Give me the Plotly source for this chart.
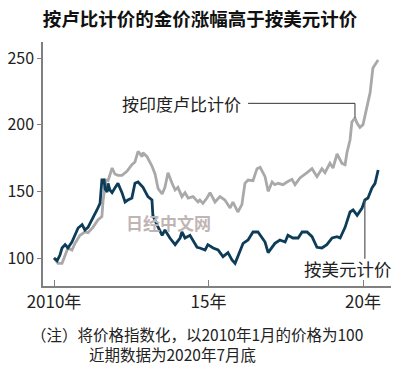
import plotly.graph_objects as go

# ---- data (index, Jan 2010 = 100) ----
usd_x = [2010.00, 2010.10, 2010.19, 2010.26, 2010.36, 2010.45, 2010.58, 2010.68, 2010.78, 2010.91,
         2011.00, 2011.10, 2011.23, 2011.39, 2011.49, 2011.52, 2011.55, 2011.62, 2011.65, 2011.72,
         2011.75, 2011.81, 2011.88, 2011.97, 2012.07, 2012.20, 2012.30, 2012.39, 2012.52, 2012.62,
         2012.72, 2012.88, 2013.04, 2013.17, 2013.20, 2013.33, 2013.50, 2013.59, 2013.75, 2013.92,
         2014.08, 2014.14, 2014.24, 2014.40, 2014.50, 2014.63, 2014.72, 2014.89, 2014.98, 2015.15,
         2015.31, 2015.47, 2015.63, 2015.76, 2015.86, 2015.95, 2016.12, 2016.28, 2016.44, 2016.60,
         2016.73, 2016.83, 2016.93, 2017.06, 2017.15, 2017.31, 2017.48, 2017.57, 2017.73, 2017.90,
         2018.03, 2018.19, 2018.35, 2018.51, 2018.67, 2018.83, 2019.00, 2019.16, 2019.26, 2019.42,
         2019.58, 2019.68, 2019.81, 2019.97, 2020.06, 2020.16, 2020.29, 2020.39, 2020.49]
usd_y = [100, 98, 102, 107.5, 110, 107.5, 112, 117, 122.5, 125,
         121, 123, 128.5, 136, 141, 150, 158.5, 158.5, 152, 149.5,
         156, 151, 149, 152.5, 156, 149, 142, 143.5, 145, 156,
         157, 153, 146, 143.5, 132, 125, 117, 121, 115, 110,
         115, 119.5, 115, 117, 113.5, 108, 107.5, 106, 110, 107.5,
         106, 101, 104, 98.5, 96, 101, 111, 113.5, 119.5, 119.5,
         115, 112, 104, 108, 111, 113.5, 112, 117, 115, 115,
         119.5, 119.5, 116, 108, 107.5, 110, 115, 116, 115, 123,
         134.5, 136, 132, 137.5, 143.5, 145, 152.5, 156, 166]

inr_x = [2010.00, 2010.13, 2010.26, 2010.36, 2010.45, 2010.58, 2010.68, 2010.84, 2011.00, 2011.10,
         2011.26, 2011.42, 2011.55, 2011.59, 2011.68, 2011.75, 2011.88, 2011.97, 2012.07, 2012.20,
         2012.36, 2012.52, 2012.62, 2012.72, 2012.85, 2012.88, 2013.01, 2013.17, 2013.27, 2013.37,
         2013.50, 2013.59, 2013.69, 2013.82, 2013.92, 2014.01, 2014.14, 2014.24, 2014.34, 2014.50,
         2014.66, 2014.72, 2014.82, 2014.95, 2015.05, 2015.21, 2015.37, 2015.53, 2015.70, 2015.79,
         2015.95, 2016.08, 2016.18, 2016.28, 2016.44, 2016.57, 2016.67, 2016.83, 2016.93, 2017.06,
         2017.15, 2017.25, 2017.41, 2017.54, 2017.70, 2017.80, 2017.96, 2018.19, 2018.35, 2018.51,
         2018.67, 2018.77, 2018.93, 2019.03, 2019.16, 2019.32, 2019.42, 2019.48, 2019.58, 2019.64,
         2019.74, 2019.81, 2019.90, 2020.00, 2020.13, 2020.23, 2020.32, 2020.39, 2020.49]
inr_y = [100, 96, 96, 102, 107.5, 106, 111, 117, 119.5, 119,
         123, 128.5, 131, 143.5, 158.5, 158, 167.5, 163, 162, 162,
         165, 170, 172, 180, 176, 179, 176, 169, 163, 152,
         148, 153, 164, 156, 151, 153, 146, 149, 145, 146,
         142, 143.5, 141, 145, 149, 142, 146, 143.5, 137.5, 142,
         134.5, 140, 156, 158.5, 158, 167, 168, 161, 150, 157,
         155, 156, 155, 157, 159, 155, 160, 164, 167, 161,
         167, 164, 171, 167.5, 178, 171, 170, 179, 188.5, 202,
         205, 201, 198, 200, 212.5, 224, 242.5, 245, 248.5]

tick_vals = [2010, 2015, 2020]
tick_text = ["2010年", "15年", "20年"]
y_ticks = [100, 150, 200, 250]

title_text = "按卢比计价的金价涨幅高于按美元计价"
inr_label = "按印度卢比计价"
usd_label = "按美元计价"
note1 = "（注）将价格指数化，以2010年1月的价格为100"
note2 = "近期数据为2020年7月底"
watermark = "日经中文网"

NAVY = "#0c3c58"
GRAY = "#a9a9a9"
AXIS = "#808080"
CJK = "Noto Sans CJK SC"

fig = go.Figure()
fig.add_trace(go.Scatter(x=inr_x, y=inr_y, mode="lines",
                         line=dict(color=GRAY, width=2.8), hoverinfo="skip"))
fig.add_trace(go.Scatter(x=usd_x, y=usd_y, mode="lines",
                         line=dict(color=NAVY, width=2.8), hoverinfo="skip"))

# leader lines anchored on data points
ia = inr_x.index(2019.74)
inr_ax, inr_ay = inr_x[ia], inr_y[ia]
fig.add_shape(type="line", xref="x", yref="y", x0=2016.28, y0=216, x1=inr_ax, y1=216,
              line=dict(color="#333333", width=1))
fig.add_shape(type="line", xref="x", yref="y", x0=inr_ax, y0=216, x1=inr_ax, y1=inr_ay,
              line=dict(color="#333333", width=1))
ua = usd_x.index(2020.06)
usd_ax, usd_ay = usd_x[ua], usd_y[ua]
fig.add_shape(type="line", xref="x", yref="y", x0=usd_ax, y0=usd_ay, x1=usd_ax, y1=99.5,
              line=dict(color="#555555", width=1.2))

fig.add_annotation(x=2016.28, y=216, xref="x", yref="y", text=inr_label, showarrow=False,
                   xanchor="right", yanchor="middle", xshift=-5,
                   font=dict(family=CJK, size=17, color="#222222"))
fig.add_annotation(x=2019.51, y=92.5, xref="x", yref="y", text=usd_label, showarrow=False,
                   xanchor="center", yanchor="middle",
                   font=dict(family=CJK, size=17.5, color="#222222"))
fig.add_annotation(x=0.362, y=0.262, xref="paper", yref="paper", text="<b>" + watermark + "</b>",
                   showarrow=False, xanchor="center", yanchor="middle",
                   font=dict(family=CJK, size=17, color="#bfb5b5"))

fig.add_annotation(x=-0.040, y=-0.1967, xref="paper", yref="paper", text=note1, showarrow=False,
                   xanchor="left", yanchor="middle", font=dict(family=CJK, size=15.5, color="#222222"))
fig.add_annotation(x=0.127, y=-0.2787, xref="paper", yref="paper", text=note2, showarrow=False,
                   xanchor="left", yanchor="middle", font=dict(family=CJK, size=15.5, color="#222222"))

fig.update_layout(
    width=400, height=377,
    margin=dict(l=43, r=9, t=42, b=91),
    paper_bgcolor="white", plot_bgcolor="white",
    showlegend=False,
    title=dict(text="<b>" + title_text + "</b>", x=0.5, xref="container", xanchor="center",
               y=1 - 20 / 377, yref="container", yanchor="middle",
               font=dict(family=CJK, size=18.5, color="#111111")),
    xaxis=dict(range=[2009.644, 2020.906], tickvals=tick_vals, ticktext=tick_text,
               showline=True, linecolor=AXIS, linewidth=1.5, ticks="inside", ticklen=6,
               tickcolor=AXIS, tickwidth=1, showgrid=False, zeroline=False, automargin=False,
               tickfont=dict(family=CJK, size=17, color="#222222")),
    yaxis=dict(range=[79, 262], tickvals=y_ticks, showline=True, linecolor=AXIS, linewidth=1.5,
               ticks="outside", ticklen=4, tickcolor=AXIS, tickwidth=1, showgrid=False,
               zeroline=False, automargin=False,
               tickfont=dict(family=CJK, size=16, color="#222222")),
)

fig.write_html("out.html", config={"displayModeBar": False},
               post_script="document.body.style.margin='0';")
